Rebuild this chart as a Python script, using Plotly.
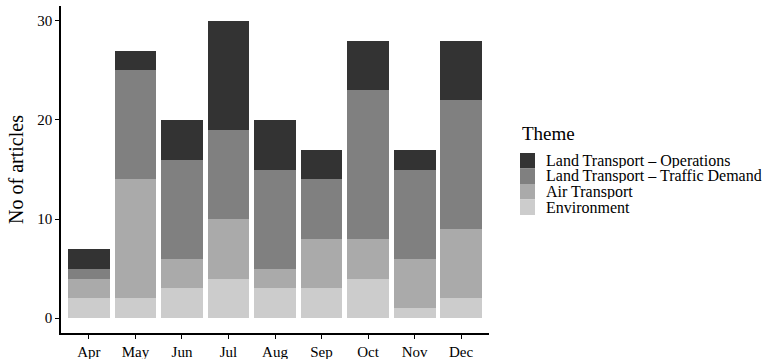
import plotly.graph_objects as go

months = ["Apr", "May", "Jun", "Jul", "Aug", "Sep", "Oct", "Nov", "Dec"]
environment = [2, 2, 3, 4, 3, 3, 4, 1, 2]
air_transport = [2, 12, 3, 6, 2, 5, 4, 5, 7]
traffic_demand = [1, 11, 10, 9, 10, 6, 15, 9, 13]
operations = [2, 2, 4, 11, 5, 3, 5, 2, 6]

series = [
    ("Environment", environment, "#cccccc"),
    ("Air Transport", air_transport, "#aaaaaa"),
    ("Land Transport \u2013 Traffic Demand", traffic_demand, "#808080"),
    ("Land Transport \u2013 Operations", operations, "#333333"),
]

W, H = 769, 359
L, R, T, B = 61, 280, 6, 26
pw, ph = W - L - R, H - T - B

def px(x):
    return (x - L) / pw

def py(y):
    return (H - B - y) / ph

font = "Liberation Serif, Times New Roman, serif"
fig = go.Figure()
for name, vals, col in series:
    fig.add_trace(go.Bar(x=months, y=vals, name=name, marker=dict(color=col, line=dict(width=0)),
                         width=0.9, showlegend=False))

# legend (drawn as key boxes + text)
shapes = []
annotations = [dict(text="Theme", x=px(520), y=py(133), xref="paper", yref="paper",
                    xanchor="left", yanchor="middle", showarrow=False,
                    font=dict(size=19, family=font, color="black"))]
key_top = 153
step = 15.5
for i, (name, vals, col) in enumerate(reversed(series)):
    y0 = key_top + i * step
    shapes.append(dict(type="rect", xref="paper", yref="paper", x0=px(520), x1=px(535),
                       y0=py(y0), y1=py(y0 + step), fillcolor=col, line=dict(width=0),
                       layer="above"))
    annotations.append(dict(text=name, x=px(545), y=py(y0 + step / 2), xref="paper", yref="paper",
                            xanchor="left", yanchor="middle", showarrow=False,
                            height=14, valign="middle", borderpad=0,
                            font=dict(size=16, family=font, color="black")))

fig.update_layout(
    barmode="stack",
    width=W, height=H,
    margin=dict(l=L, r=R, t=T, b=B),
    plot_bgcolor="white", paper_bgcolor="white",
    font=dict(family=font, size=15, color="black"),
    showlegend=False,
    shapes=shapes,
    annotations=annotations,
    xaxis=dict(range=[-0.6, 8.6], showline=True, linecolor="black", linewidth=1.5,
               ticks="outside", ticklen=4, tickcolor="black", tickwidth=1.2,
               showgrid=False, automargin=False, tickfont=dict(size=15, color="black")),
    yaxis=dict(range=[-1.5, 31.5], showline=True, linecolor="black", linewidth=1.5,
               ticks="outside", ticklen=4, tickcolor="black", tickwidth=1.2,
               showgrid=False, zeroline=False, tickvals=[0, 10, 20, 30], automargin=False,
               tickfont=dict(size=15, color="black"),
               title=dict(text="No of articles", font=dict(size=20), standoff=8)),
)
fig.write_html("out.html", config={"displayModeBar": False},
               post_script="document.body.style.margin='0';document.body.style.overflow='hidden';")
